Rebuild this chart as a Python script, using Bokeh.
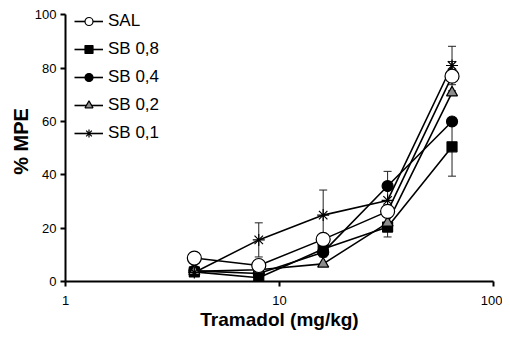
from bokeh.plotting import figure
from bokeh.models import ColumnDataSource, Whisker, TeeHead, Legend, LegendItem, FixedTicker, Range1d
from bokeh.embed import file_html
from bokeh.resources import INLINE

doses = [4, 8, 16, 32, 64]
series_names = ["SAL", "SB 0,8", "SB 0,4", "SB 0,2", "SB 0,1"]
sal = [8.8, 6.0, 15.8, 26.3, 77.0]
sb08 = [3.6, 1.4, 12.2, 20.4, 50.5]
sb04 = [4.0, 3.0, 11.0, 35.8, 60.0]
sb02 = [3.8, 4.4, 6.6, 22.0, 70.8]
sb01 = [3.4, 15.6, 24.9, 30.4, 81.0]

sal_err = [0, 0, 0, 0, 5.5]
sb08_err = [0, 0, 3.0, 3.7, 11.0]
sb04_err = [0, 0, 0, 5.5, 0]
sb02_err = [0, 0, 0, 0, 0]
sb01_err = [0, 6.4, 9.4, 0, 7.2]

x_ticks = [1, 10, 100]
y_ticks = [0, 20, 40, 60, 80, 100]

p = figure(width=502, height=332, x_axis_type="log",
           x_range=Range1d(1, 100), y_range=Range1d(0, 105),
           output_backend="svg", toolbar_location=None,
           min_border_left=65, min_border_right=9, min_border_top=1, min_border_bottom=50)
p.outline_line_color = None
p.xgrid.visible = False
p.ygrid.visible = False
p.background_fill_color = "white"

FONT = "Liberation Sans"
for ax in (p.xaxis[0], p.yaxis[0]):
    ax.axis_line_width = 2
    ax.axis_line_color = "black"
    ax.major_tick_line_width = 2
    ax.major_tick_line_color = "black"
    ax.major_tick_out = 5
    ax.major_tick_in = 0
    ax.minor_tick_line_color = None
    ax.major_label_text_font = FONT
    ax.major_label_text_font_size = "13px"
    ax.major_label_text_color = "black"
    ax.axis_label_text_font = FONT
    ax.axis_label_text_font_style = "bold"
    ax.axis_label_text_color = "black"

p.xaxis[0].ticker = FixedTicker(ticks=x_ticks)
p.xaxis[0].major_label_overrides = {t: str(t) for t in x_ticks}
p.xaxis[0].major_label_standoff = 9
p.xaxis[0].axis_label = "Tramadol (mg/kg)"
p.xaxis[0].axis_label_standoff = 1
p.xaxis[0].axis_label_text_font_size = "19px"
p.yaxis[0].ticker = FixedTicker(ticks=y_ticks)
p.yaxis[0].bounds = (y_ticks[0], y_ticks[-1])
p.yaxis[0].major_label_standoff = 4
p.yaxis[0].axis_label = "% MPE"
p.yaxis[0].axis_label_standoff = 0
p.yaxis[0].axis_label_text_font_size = "20px"

all_vals = [sal, sb08, sb04, sb02, sb01]
all_errs = [sal_err, sb08_err, sb04_err, sb02_err, sb01_err]
markers = ["circle", "square", "circle", "triangle", "asterisk"]
fills = ["white", "black", "black", "#8c8c8c", None]
sizes = [14, 10, 11, 11, 12]

# error bars
for vals, errs in zip(all_vals, all_errs):
    xs = [d for d, e in zip(doses, errs) if e > 0]
    up = [v + e for v, e in zip(vals, errs) if e > 0]
    lo = [v - e for v, e in zip(vals, errs) if e > 0]
    src = ColumnDataSource(dict(x=xs, upper=up, lower=lo))
    w = Whisker(source=src, base="x", upper="upper", lower="lower", dimension="height",
                line_color="#222222", line_width=1,
                upper_head=TeeHead(size=8, line_color="#222222", line_width=1),
                lower_head=TeeHead(size=8, line_color="#222222", line_width=1))
    p.add_layout(w)

lines = []
for vals in all_vals:
    lines.append(p.line(doses, vals, line_color="black", line_width=1.6))

scat = [None] * 5
order = [1, 2, 3, 4, 0]
for i in order:
    kw = dict(marker=markers[i], size=sizes[i], line_color="black", line_width=1.2)
    if fills[i] is None:
        kw["fill_alpha"] = 0
    else:
        kw["fill_color"] = fills[i]
    scat[i] = p.scatter(doses, all_vals[i], **kw)

items = [LegendItem(label=series_names[i], renderers=[lines[i], scat[i]]) for i in range(5)]
legend = Legend(items=items, location=(9, 138), padding=0, margin=0,
                spacing=8, glyph_width=29, glyph_height=20, label_height=20,
                label_standoff=5, label_text_font=FONT, label_text_font_size="17px",
                label_text_color="black", border_line_color=None, background_fill_alpha=0)
p.add_layout(legend, "center")

open("out.html", "w").write(file_html(p, INLINE))
